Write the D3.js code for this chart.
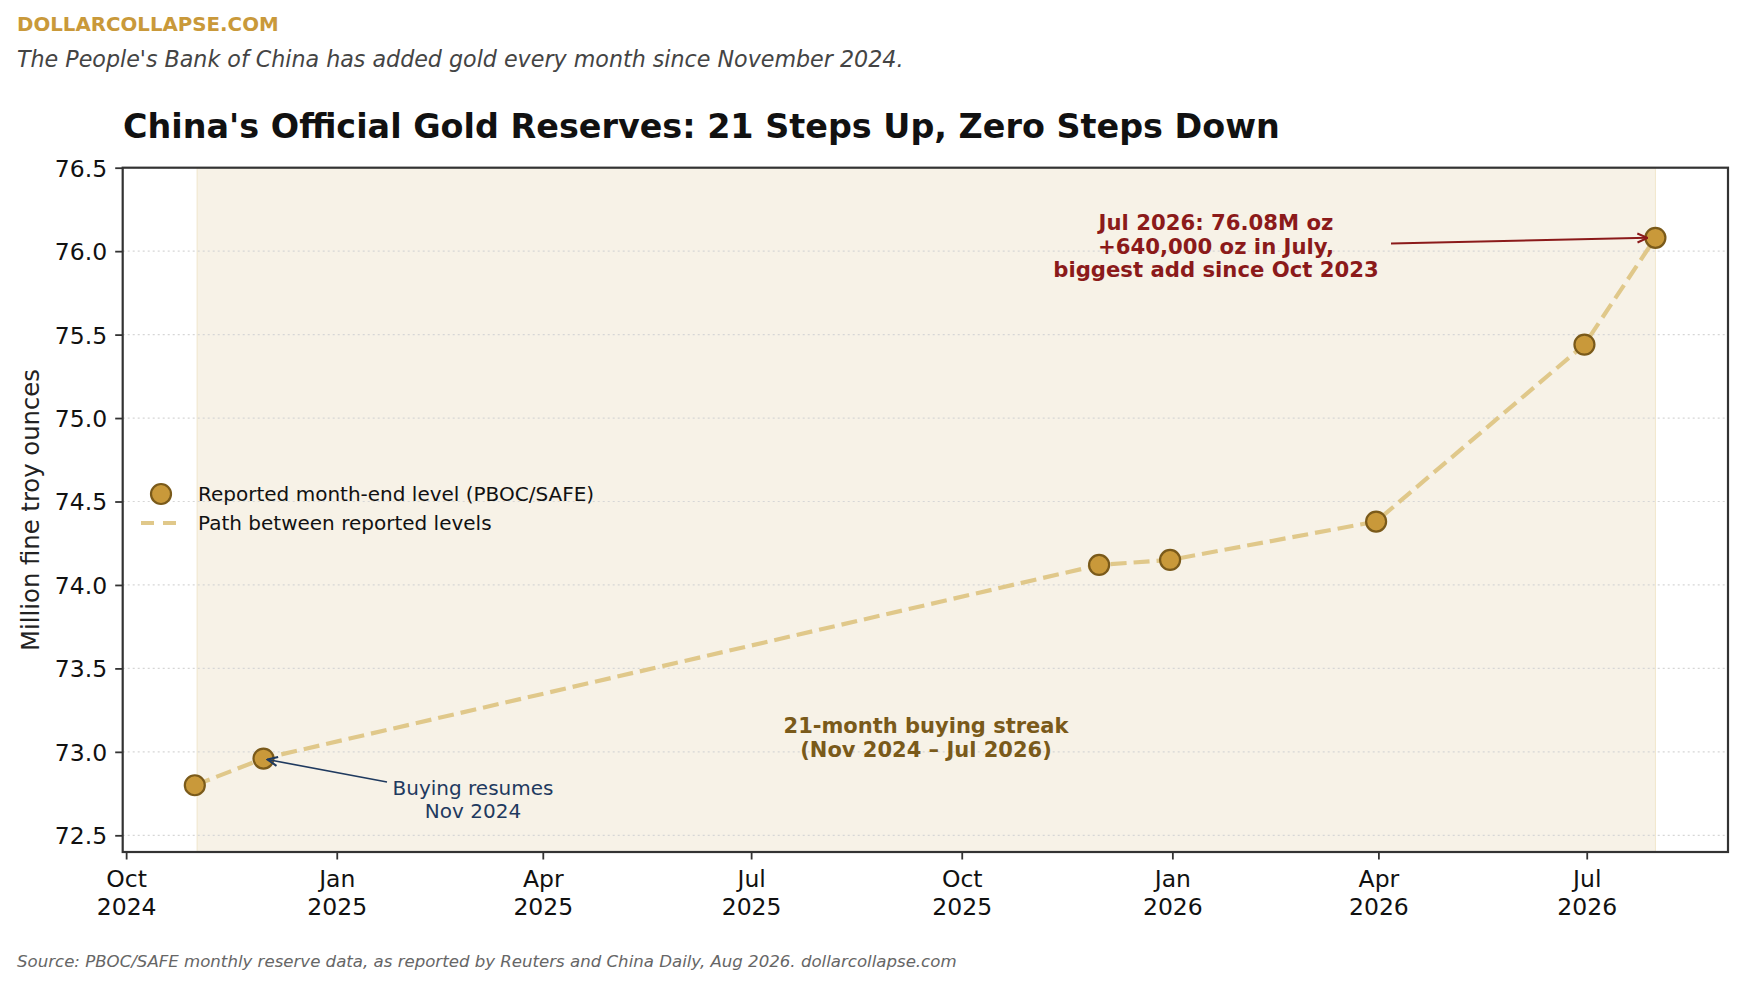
<!DOCTYPE html>
<html>
<head>
<meta charset="utf-8">
<script src="https://cdn.jsdelivr.net/npm/d3@7"></script>
<style>
  body { margin: 0; background: #fff; }
  text { font-family: "DejaVu Sans", sans-serif; }
</style>
</head>
<body>
<svg id="chart" width="1744" height="988"></svg>
<script>
// month-end reported levels, million fine troy ounces
var dates = ["2024-10-31", "2024-11-30", "2025-11-30", "2025-12-31", "2026-03-31", "2026-06-30", "2026-07-31"]
var values = [72.80, 72.96, 74.12, 74.15, 74.38, 75.44, 76.08]
var yTicks = [72.5, 73.0, 73.5, 74.0, 74.5, 75.0, 75.5, 76.0, 76.5]
var streak = ["2024-11-01", "2026-07-31"]

var parse = d3.utcParse("%Y-%m-%d")
var points = dates.map(function(d, i) { return { date: parse(d), value: values[i] } })

var svg = d3.select("#chart")
var plotL = 122.7, plotR = 1728, plotT = 167.7, plotB = 852

var x = d3.scaleUtc()
  .domain([Date.UTC(2024, 8, 29, 12), Date.UTC(2026, 7, 31, 17)])
  .range([plotL, plotR])
var y = d3.scaleLinear().domain([72.4, 76.5]).range([plotB, plotT])

// header texts
svg.append("text").attr("x", 17).attr("y", 31)
  .attr("font-size", 19.8).attr("font-weight", "bold").attr("fill", "#c9993a")
  .text("DOLLARCOLLAPSE.COM")
svg.append("text").attr("x", 17).attr("y", 67)
  .attr("font-size", 22.2).attr("font-style", "italic").attr("fill", "#444")
  .text("The People's Bank of China has added gold every month since November 2024.")
svg.append("text").attr("x", 123).attr("y", 138)
  .attr("font-size", 33.4).attr("font-weight", "bold").attr("fill", "#111")
  .text("China's Official Gold Reserves: 21 Steps Up, Zero Steps Down")

// streak shading
svg.append("rect")
  .attr("x", x(parse(streak[0])))
  .attr("y", plotT)
  .attr("width", x(parse(streak[1])) - x(parse(streak[0])))
  .attr("height", plotB - plotT)
  .attr("fill", "#f7f2e7")
  .attr("stroke", "#f1e6cc").attr("stroke-width", 1)

// grid
svg.append("g").selectAll("line").data(yTicks).enter().append("line")
  .attr("x1", plotL).attr("x2", plotR)
  .attr("y1", function(d) { return y(d) }).attr("y2", function(d) { return y(d) })
  .attr("stroke", "#d6d6d6").attr("stroke-width", 1.2).attr("stroke-dasharray", "2,3")

// axes
var yAxis = svg.append("g").attr("transform", "translate(" + plotL + ",0)")
  .call(d3.axisLeft(y).tickValues(yTicks).tickFormat(d3.format(".1f")).tickSize(7.5).tickPadding(8))
yAxis.select(".domain").remove()
yAxis.selectAll(".tick line").attr("stroke", "#333").attr("stroke-width", 1.8)
yAxis.selectAll(".tick text").attr("font-size", 23.5).attr("fill", "#111")
  .attr("font-family", "DejaVu Sans").attr("dy", "0.36em")

var xAxis = svg.append("g").attr("transform", "translate(0," + plotB + ")")
  .call(d3.axisBottom(x).ticks(d3.utcMonth.every(3)).tickSize(7.5).tickFormat(""))
xAxis.select(".domain").remove()
xAxis.selectAll(".tick line").attr("stroke", "#333").attr("stroke-width", 1.8)
xAxis.selectAll(".tick").each(function(d) {
  var t = d3.select(this).append("text").attr("text-anchor", "middle")
    .attr("font-size", 23.5).attr("fill", "#111").attr("font-family", "DejaVu Sans")
  t.append("tspan").attr("x", 0).attr("y", 34.5).text(d3.utcFormat("%b")(d))
  t.append("tspan").attr("x", 0).attr("y", 63).text(d3.utcFormat("%Y")(d))
})

// frame
svg.append("rect").attr("x", plotL).attr("y", plotT)
  .attr("width", plotR - plotL).attr("height", plotB - plotT)
  .attr("fill", "none").attr("stroke", "#333").attr("stroke-width", 2.2)

svg.append("text")
  .attr("transform", "translate(39,510) rotate(-90)")
  .attr("text-anchor", "middle").attr("font-size", 24.3).attr("fill", "#222")
  .text("Million fine troy ounces")

// path + markers
var line = d3.line().x(function(d) { return x(d.date) }).y(function(d) { return y(d.value) })
svg.append("path").datum(points).attr("d", line)
  .attr("fill", "none").attr("stroke", "#e0c88a").attr("stroke-width", 4.2)
  .attr("stroke-dasharray", "16,7")

svg.append("g").selectAll("circle").data(points).enter().append("circle")
  .attr("cx", function(d) { return x(d.date) })
  .attr("cy", function(d) { return y(d.value) })
  .attr("r", 10)
  .attr("fill", "#c9993a").attr("stroke", "#7a5a1a").attr("stroke-width", 2.2)

// arrow markers
var defs = svg.append("defs")
function arrowHead(id, color) {
  defs.append("marker").attr("id", id).attr("viewBox", "0 0 12 12")
    .attr("refX", 11).attr("refY", 6).attr("markerWidth", 12).attr("markerHeight", 12)
    .attr("markerUnits", "userSpaceOnUse").attr("orient", "auto")
    .append("path").attr("d", "M1,1.5 L11,6 L1,10.5")
    .attr("fill", "none").attr("stroke", color).attr("stroke-width", 2)
}
arrowHead("redHead", "#8b1a1a")
arrowHead("navyHead", "#1f3a5f")

// annotations
var last = points[points.length - 1]
svg.append("line").attr("x1", 1391).attr("y1", 243.5)
  .attr("x2", x(last.date) - 8).attr("y2", y(last.value))
  .attr("stroke", "#8b1a1a").attr("stroke-width", 2).attr("marker-end", "url(#redHead)")

var redLines = ["Jul 2026: 76.08M oz", "+640,000 oz in July,", "biggest add since Oct 2023"]
svg.append("g").selectAll("text").data(redLines).enter().append("text")
  .attr("x", 1216).attr("y", function(d, i) { return 230 + i * 23.5 })
  .attr("text-anchor", "middle").attr("font-size", 21.2).attr("font-weight", "bold")
  .attr("fill", "#8b1a1a").text(function(d) { return d })

var second = points[1]
svg.append("line").attr("x1", 387).attr("y1", 782)
  .attr("x2", x(second.date) + 4).attr("y2", y(second.value) + 1)
  .attr("stroke", "#1f3a5f").attr("stroke-width", 1.6).attr("marker-end", "url(#navyHead)")

var navyLines = ["Buying resumes", "Nov 2024"]
svg.append("g").selectAll("text").data(navyLines).enter().append("text")
  .attr("x", 473).attr("y", function(d, i) { return 795 + i * 22.5 })
  .attr("text-anchor", "middle").attr("font-size", 20)
  .attr("fill", "#1f3a5f").text(function(d) { return d })

var streakLines = ["21-month buying streak", "(Nov 2024 \u2013 Jul 2026)"]
svg.append("g").selectAll("text").data(streakLines).enter().append("text")
  .attr("x", 926).attr("y", function(d, i) { return 733 + i * 23.5 })
  .attr("text-anchor", "middle").attr("font-size", 21).attr("font-weight", "bold")
  .attr("fill", "#7a5a1a").text(function(d) { return d })

// legend
svg.append("circle").attr("cx", 161).attr("cy", 494).attr("r", 10)
  .attr("fill", "#c9993a").attr("stroke", "#7a5a1a").attr("stroke-width", 2.2)
svg.append("line").attr("x1", 141).attr("x2", 181).attr("y1", 523).attr("y2", 523)
  .attr("stroke", "#e0c88a").attr("stroke-width", 4.2).attr("stroke-dasharray", "13,9")
svg.append("text").attr("x", 198).attr("y", 501).attr("font-size", 20).attr("fill", "#111")
  .text("Reported month-end level (PBOC/SAFE)")
svg.append("text").attr("x", 198).attr("y", 529.5).attr("font-size", 20).attr("fill", "#111")
  .text("Path between reported levels")

// source
svg.append("text").attr("x", 17).attr("y", 967)
  .attr("font-size", 16.6).attr("font-style", "italic").attr("fill", "#666")
  .text("Source: PBOC/SAFE monthly reserve data, as reported by Reuters and China Daily, Aug 2026. dollarcollapse.com")
</script>
</body>
</html>
